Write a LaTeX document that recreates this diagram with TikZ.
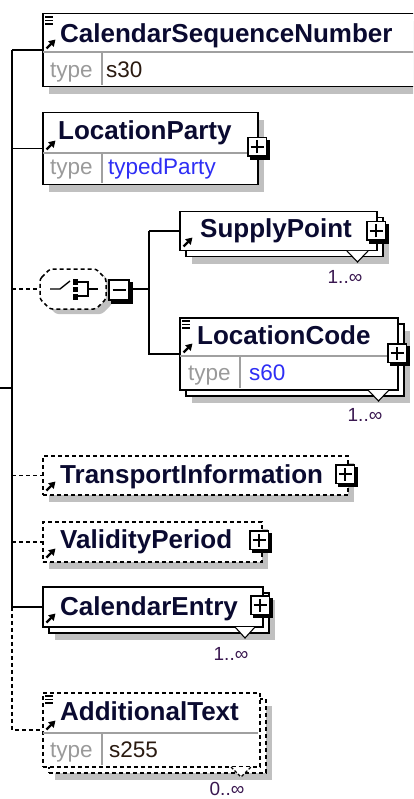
\documentclass[tikz,border=0pt]{standalone}
\usepackage{fontspec}
\setmainfont{Liberation Sans}
\usetikzlibrary{arrows.meta}
\definecolor{namecol}{HTML}{0A0A30}
\definecolor{typecol}{HTML}{9A9A9A}
\definecolor{valcol}{HTML}{2A1A10}
\definecolor{bluecol}{HTML}{2E2EF5}
\definecolor{multcol}{HTML}{3A1850}
\definecolor{shadowcol}{HTML}{C0C0C0}
\definecolor{divcol}{HTML}{A0A0A0}
\newcommand\xsexpbox[5]{%
  \node[expbox, minimum size=#5pt] (#1) at (#2,#3) {};
  \draw[line width=2.6pt] ([xshift=1.7pt,yshift=-3pt]#1.north east) |- ([xshift=3pt,yshift=-1.7pt]#1.south west);
  \draw[line width=1.5pt] ([xshift=-6.5pt]#1.center) -- ([xshift=6.5pt]#1.center);
  \ifx#4p\draw[line width=1.5pt] ([yshift=-6.5pt]#1.center) -- ([yshift=6.5pt]#1.center);\fi
}
\newcommand\xsref[2]{% left x, row bottom y
  \draw[refarrow] (#1+4.5,#2-3.5) -- (#1+13.5,#2-12.5);
}
\newcommand\xssimple[2]{% left x, top y
  \draw[simpleicon] (#1+3,#2+4) -- (#1+11,#2+4) (#1+3,#2+7.5) -- (#1+11,#2+7.5) (#1+3,#2+11) -- (#1+11,#2+11);
}
\begin{document}
\begin{tikzpicture}[x=1pt,y=-1pt,
 elbox/.style={rectangle, draw=black, line width=1.5pt, fill=white, inner sep=0pt, anchor=north west},
 optbox/.style={elbox, dash pattern=on 4pt off 3pt},
 shadowbox/.style={rectangle, fill=shadowcol, draw=none, inner sep=0pt, anchor=north west},
 conn/.style={line width=1.5pt, black},
 optconn/.style={conn, dash pattern=on 4pt off 3pt},
 divline/.style={line width=1.1pt, divcol},
 nametext/.style={anchor=base west, inner sep=0pt, font=\fontsize{26}{30}\selectfont\bfseries, text=namecol},
 typelabel/.style={anchor=base west, inner sep=0pt, font=\fontsize{22.5}{26}\selectfont, text=typecol},
 typeval/.style={anchor=base west, inner sep=0pt, font=\fontsize{22.5}{26}\selectfont, text=valcol},
 typeref/.style={typeval, text=bluecol},
 multtext/.style={inner sep=0pt, font=\fontsize{19}{22}\selectfont, text=multcol},
 refarrow/.style={line width=2.2pt, -{Triangle[length=6.5pt,width=7.5pt]}},
 simpleicon/.style={line width=1.3pt},
 expbox/.style={rectangle, draw=black, line width=1.5pt, fill=white, inner sep=0pt},
 multtri/.style={line width=1.1pt, fill=white, draw=black},
 octo/.style={rounded corners=2.5pt}
]
\useasboundingbox (0,0) rectangle (413,799);
\clip (0,0) rectangle (413,799);
\coordinate (spT) at (12,49);
\coordinate (parent) at (0,388);

% ---------- shadows ----------
\node[shadowbox, minimum width=380pt, minimum height=73pt] (csnS) at (49,21) {};
\node[shadowbox, minimum width=215pt, minimum height=72pt] (lpS) at (49,120) {};
\node[shadowbox, minimum width=197pt, minimum height=39pt] (spS) at (192,225) {};
\node[shadowbox, minimum width=218pt, minimum height=72pt] (lcS) at (192,331) {};
\node[shadowbox, minimum width=305pt, minimum height=39pt] (tiS) at (49,463) {};
\node[shadowbox, minimum width=219pt, minimum height=40pt] (vpS) at (49,529) {};
\node[shadowbox, minimum width=220pt, minimum height=40pt] (ceS) at (55,600) {};
\node[shadowbox, minimum width=217pt, minimum height=74pt] (atS) at (55,706) {};
\fill[shadowcol, octo] (46,284) -- (56,274) -- (102,274) -- (112,284) -- (112,304) -- (102,314) -- (56,314) -- (46,304) -- cycle;

% ---------- back boxes of repeated elements ----------
\node[elbox, minimum width=197pt, minimum height=39pt] (spB) at (185,217) {};
\node[elbox, minimum width=218pt, minimum height=72pt] (lcB) at (185,323) {};
\node[elbox, minimum width=220pt, minimum height=40pt] (ceB) at (48,592) {};
\node[optbox, minimum width=217pt, minimum height=74pt] (atB) at (48,698) {};

% ---------- front boxes ----------
\node[elbox, minimum width=380pt, minimum height=73pt] (csn) at (42,13) {};
\node[elbox, minimum width=215pt, minimum height=72pt] (lp) at (42,112) {};
\node[elbox, minimum width=197pt, minimum height=39pt] (sp) at (179,211) {};
\node[elbox, minimum width=218pt, minimum height=72pt] (lc) at (179,317) {};
\node[optbox, minimum width=305pt, minimum height=39pt] (ti) at (42,455) {};
\node[optbox, minimum width=219pt, minimum height=40pt] (vp) at (42,521) {};
\node[elbox, minimum width=220pt, minimum height=40pt] (ce) at (42,586) {};
\node[optbox, minimum width=217pt, minimum height=74pt] (at) at (42,692) {};
\node[rectangle, inner sep=0pt, minimum width=66pt, minimum height=40pt] (choice) at (73,289) {};
\draw[line width=1.5pt, fill=white, dash pattern=on 4pt off 3pt, octo] (40,279) -- (50,269) -- (96,269) -- (106,279) -- (106,299) -- (96,309) -- (50,309) -- (40,299) -- cycle;

% ---------- type rows ----------
\draw[divline] (42.8,52) -- (422,52) (102,52) -- (102,85.2);
\draw[divline] (42.8,153) -- (256.2,153) (102,153) -- (102,183.2);
\draw[divline] (179.8,356) -- (396.2,356) (240,356) -- (240,388.2);
\draw[divline] (42.8,733) -- (258.2,733) (102,733) -- (102,765.2);

% ---------- multiplicity triangles ----------
\draw[multtri] (347,251) -- (357.5,262) -- (368,251);
\draw[multtri] (368,390) -- (378.5,401) -- (389,390);
\draw[multtri] (235,627) -- (245,638) -- (255,627);
\draw[multtri, dash pattern=on 3pt off 2pt] (231,767) -- (241,777) -- (251,767);

% ---------- connectors ----------
\draw[conn] (csn.west -| spT) -- (ce.west -| spT);
\draw[optconn] (ce.west -| spT) -- (at.west -| spT) -- (at.west);
\draw[conn] (parent) -- (parent -| spT);
\draw[conn] (csn.west -| spT) -- (csn.west);
\draw[conn] (lp.west -| spT) -- (lp.west);
\draw[optconn] (choice.west -| spT) -- (choice.west);
\draw[optconn] (ti.west -| spT) -- (ti.west);
\draw[optconn] (vp.west -| spT) -- (vp.west);
\draw[conn] (ce.west -| spT) -- (ce.west);

\coordinate (cj) at (149,289);
\draw[conn] (cj |- sp.west) -- (sp.west);
\draw[conn] (cj |- sp.west) -- (cj |- lc.west) -- (lc.west);

% ---------- choice icon ----------
\draw[line width=1.4pt] (50,289) -- (60,289) -- (70,281);
\fill (72.5,279) rectangle (78,284.5);
\fill (72.5,286.5) rectangle (78,292);
\fill (72.5,294) rectangle (78,299.5);
\draw[line width=1.4pt] (78,282) -- (88,282) -- (88,296) -- (78,296) (88,289) -- (98,289);

% ---------- expand / collapse boxes ----------
\xsexpbox{minus}{119}{290}{m}{20}
\draw[conn] (minus.east |- cj) -- (cj);
\xsexpbox{lpX}{257}{147}{p}{18.5}
\xsexpbox{spX}{376}{231}{p}{18.5}
\xsexpbox{lcX}{397}{353}{p}{18.5}
\xsexpbox{tiX}{345}{474}{p}{18.5}
\xsexpbox{vpX}{259}{540}{p}{18.5}
\xsexpbox{ceX}{260}{605}{p}{18.5}

% ---------- icons ----------
\xssimple{42}{13}
\xssimple{179}{317}
\xssimple{42}{692}
\xsref{42}{52}
\xsref{42}{153}
\xsref{179}{250}
\xsref{179}{356}
\xsref{42}{494}
\xsref{42}{561}
\xsref{42}{626}
\xsref{42}{733}

% ---------- texts ----------
\node[nametext] (csnT) at (60,43) {CalendarSequenceNumber};
\node[typelabel] (csnL) at (50,78) {type};
\node[typeval] (csnV) at (106,78) {s30};
\node[nametext] (lpT) at (58,140) {LocationParty};
\node[typelabel] (lpL) at (50,175) {type};
\node[typeref] (lpV) at (108,175) {typedParty};
\node[nametext] (spT2) at (200,238) {SupplyPoint};
\node[multtext] (spM) at (345,277) {1..∞};
\node[nametext] (lcT) at (197,344) {LocationCode};
\node[typelabel] (lcL) at (188,380) {type};
\node[typeref] (lcV) at (249,380) {s60};
\node[multtext] (lcM) at (365,415) {1..∞};
\node[nametext] (tiT) at (60,483) {TransportInformation};
\node[nametext] (vpT) at (60,548) {ValidityPeriod};
\node[nametext] (ceT) at (60,615) {CalendarEntry};
\node[multtext] (ceM) at (231,654) {1..∞};
\node[nametext] (atT) at (60,720) {AdditionalText};
\node[typelabel] (atL) at (50,757) {type};
\node[typeval] (atV) at (109,757) {s255};
\node[multtext] (atM) at (227,789) {0..∞};
\end{tikzpicture}
\end{document}
